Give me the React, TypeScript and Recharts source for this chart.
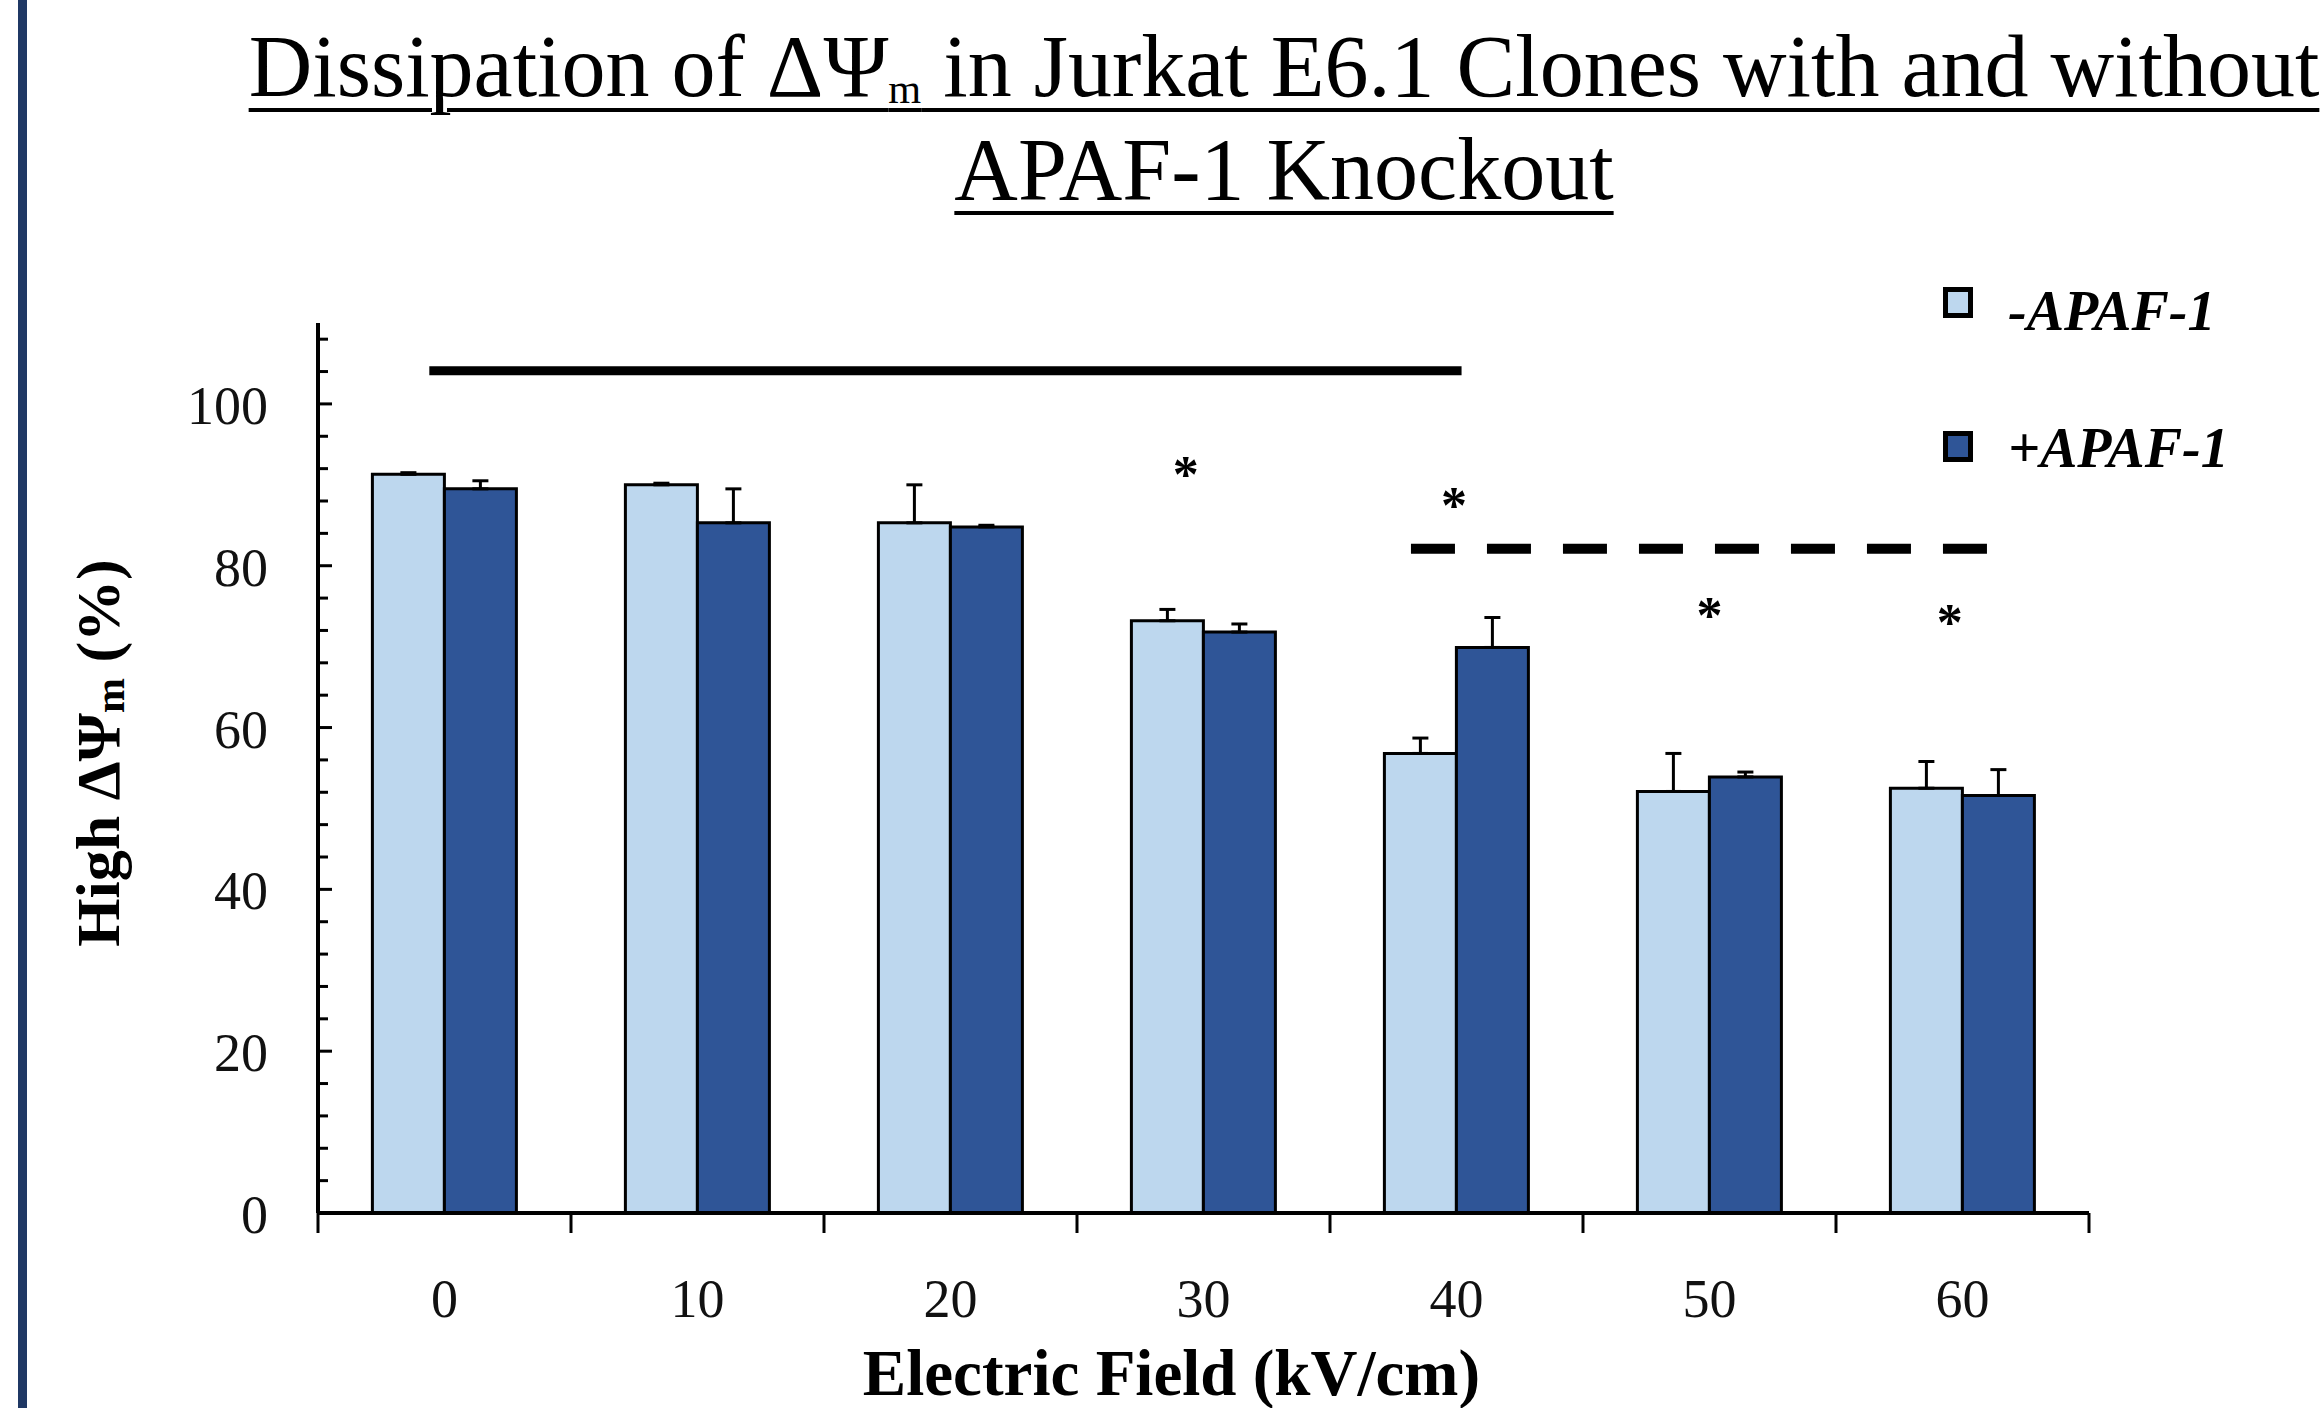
import React from 'react';
import { BarChart, Bar, XAxis, YAxis, ErrorBar, ReferenceLine, ReferenceDot, Legend } from 'recharts';

// ---- data ----
const categories = ['0', '10', '20', '30', '40', '50', '60'];
const minusApaf = [91.3, 90.0, 85.3, 73.2, 56.8, 52.1, 52.5];
const minusApafErr = [0.2, 0.2, 4.7, 1.4, 1.9, 4.7, 3.3];
const plusApaf = [89.5, 85.3, 84.8, 71.8, 69.9, 53.9, 51.6];
const plusApafErr = [1.0, 4.2, 0.2, 1.0, 3.7, 0.6, 3.2];
const seriesNames = ['-APAF-1', '+APAF-1'];

const yTicks = [0, 4, 8, 12, 16, 20, 24, 28, 32, 36, 40, 44, 48, 52, 56, 60, 64, 68, 72, 76, 80, 84, 88, 92, 96, 100, 104, 108];

// significance markers
const starCats = ['30', '40', '50', '60'];
const starY = [92.3, 88.5, 74.9, 74.0];
const starShift = [-0.07, -0.01, 0.0, -0.05]; // fraction of a category band
const solidBracketCats = ['0', '40'];
const solidBracketY = 104.1;
const solidBracketExtend = [-0.06, 0.02];
const dashedBracketCats = ['40', '60'];
const dashedBracketY = 82.1;
const dashedBracketExtend = [-0.18, 0.1];

const data = categories.map((c, i) => ({
  field: c,
  minus: minusApaf[i],
  minusErr: [0, minusApafErr[i]],
  plus: plusApaf[i],
  plusErr: [0, plusApafErr[i]],
}));

const SERIF = '"Liberation Serif", "Times New Roman", Times, serif';
const LIGHT = '#BDD7EE';
const DARK = '#2F5597';

const CHART_W = 2323;
const CHART_H = 1408;
const MARGIN = { top: 323, right: 234, bottom: 5, left: 40 };
const Y_AXIS_W = 278;
const BAND = (CHART_W - MARGIN.left - Y_AXIS_W - MARGIN.right) / categories.length;

const YTick = (props: any) => {
  const { x, y, payload } = props;
  const major = payload.value % 20 === 0;
  return (
    <g>
      <line x1={x} x2={x + (major ? 14 : 10)} y1={y} y2={y} stroke="#000" strokeWidth={3} />
      {major && (
        <text x={x - 50} y={y + 20} textAnchor="end" fontFamily={SERIF} fontSize={54} fill="#111">
          {payload.value}
        </text>
      )}
    </g>
  );
};

const XTick = (props: any) => {
  const { x, y, payload, index } = props;
  const half = payload && typeof payload.offset === 'number' && payload.offset > 0 ? payload.offset : BAND / 2;
  const last = index === categories.length - 1;
  return (
    <g>
      <line x1={x - half} x2={x - half} y1={y} y2={y + 20} stroke="#000" strokeWidth={3} />
      {last && <line x1={x + half} x2={x + half} y1={y} y2={y + 20} stroke="#000" strokeWidth={3} />}
      <text x={x} y={y + 104} textAnchor="middle" fontFamily={SERIF} fontSize={54} fill="#111">
        {payload.value}
      </text>
    </g>
  );
};

const YLabel = (props: any) => {
  const vb = props.viewBox || {};
  const x = vb.x + 79;
  const y = vb.y + vb.height / 2 - 15;
  return (
    <text
      x={x}
      y={y}
      transform={`rotate(-90, ${x}, ${y})`}
      textAnchor="middle"
      fontFamily={SERIF}
      fontWeight="bold"
      fontSize={62}
      fill="#000"
    >
      <tspan>High ΔΨ</tspan>
      <tspan fontSize={42} dy={5}>m</tspan>
      <tspan dy={-5}> (%)</tspan>
    </text>
  );
};

const XLabel = (props: any) => {
  const vb = props.viewBox || {};
  return (
    <text
      x={vb.x + vb.width / 2 - 32}
      y={vb.y + 182}
      textAnchor="middle"
      fontFamily={SERIF}
      fontWeight="bold"
      fontSize={65}
      fill="#000"
    >
      Electric Field (kV/cm)
    </text>
  );
};

const makeStar = (shift: number) => (props: any) => (
  <text
    x={props.cx + shift * BAND}
    y={props.cy + 26}
    textAnchor="middle"
    fontFamily={SERIF}
    fontWeight="bold"
    fontSize={52}
    fill="#000"
  >
    *
  </text>
);

// bracket shape: endpoints come from the category scale (band centres); extend by band fractions
const makeBracket = (spanCats: number, extend: number[], dash?: string, width?: number) => (props: any) => {
  const { x1, x2, y1, y2 } = props;
  if (x1 == null || x2 == null) return null;
  const band = (x2 - x1) / spanCats;
  return (
    <line
      x1={x1 + extend[0] * band}
      x2={x2 + extend[1] * band}
      y1={y1}
      y2={y2}
      stroke="#000"
      strokeWidth={width}
      strokeDasharray={dash}
    />
  );
};

const legendRows = [
  { sq: 19.5, base: 60 },
  { sq: 163.5, base: 197 },
];

const LegendContent = (props: any) => {
  const payload = [...(props.payload || [])].sort(
    (a: any, b: any) => seriesNames.indexOf(a.value) - seriesNames.indexOf(b.value)
  );
  return (
    <svg width={390} height={220} style={{ display: 'block' }}>
      {payload.map((p: any, i: number) => (
        <g key={i}>
          <rect
            x={15.5}
            y={legendRows[i].sq}
            width={25}
            height={26}
            fill={p.color || (p.payload && p.payload.fill)}
            stroke="#000"
            strokeWidth={5}
          />
          <text
            x={78}
            y={legendRows[i].base}
            fontFamily={SERIF}
            fontStyle="italic"
            fontWeight="bold"
            fontSize={56}
            fill="#000"
          >
            {p.value}
          </text>
        </g>
      ))}
    </svg>
  );
};

const catIndex = (c: string) => categories.indexOf(c);

export default function App() {
  return (
    <div style={{ position: 'absolute', left: 0, top: 0, width: CHART_W, height: CHART_H, background: '#fff', overflow: 'hidden' }}>
      <div style={{ position: 'absolute', left: 18, top: 0, width: 9, height: CHART_H, background: '#1F3864' }} />
      <div
        style={{
          position: 'absolute',
          left: 1284,
          top: 15,
          transform: 'translateX(-50%)',
          whiteSpace: 'nowrap',
          textAlign: 'center',
          fontFamily: SERIF,
          fontSize: 88,
          lineHeight: '103px',
          color: '#000',
          textDecoration: 'underline',
          textDecorationThickness: '4px',
          textUnderlineOffset: '12px',
          zIndex: 2,
        }}
      >
        Dissipation of ΔΨ
        <span style={{ fontSize: '0.48em', lineHeight: 1, verticalAlign: '-7px' }}>m</span> in Jurkat E6.1 Clones with and without
        <br />
        APAF-1 Knockout
      </div>
      <BarChart
        width={CHART_W}
        height={CHART_H}
        data={data}
        margin={MARGIN}
        barCategoryGap="21.5%"
        barGap={0}
      >
        <XAxis
          dataKey="field"
          height={190}
          interval={0}
          axisLine={{ stroke: '#000', strokeWidth: 4 }}
          tickLine={false}
          tickSize={0}
          tickMargin={0}
          tick={XTick}
          label={{ content: XLabel }}
        />
        <YAxis
          domain={[0, 110]}
          ticks={yTicks}
          interval={0}
          width={Y_AXIS_W}
          axisLine={{ stroke: '#000', strokeWidth: 4 }}
          tickLine={false}
          tickSize={0}
          tickMargin={0}
          tick={YTick}
          label={{ content: YLabel }}
        />
        <Legend
          layout="vertical"
          align="center"
          verticalAlign="middle"
          wrapperStyle={{ position: 'absolute', left: 1930, top: 270, width: 390, height: 220 }}
          content={LegendContent}
        />
        <Bar dataKey="minus" name={seriesNames[0]} fill={LIGHT} stroke="#000" strokeWidth={3} isAnimationActive={false}>
          <ErrorBar dataKey="minusErr" direction="y" width={8} stroke="#000" strokeWidth={3} />
        </Bar>
        <Bar dataKey="plus" name={seriesNames[1]} fill={DARK} stroke="#000" strokeWidth={3} isAnimationActive={false}>
          <ErrorBar dataKey="plusErr" direction="y" width={8} stroke="#000" strokeWidth={3} />
        </Bar>
        <ReferenceLine
          segment={[
            { x: solidBracketCats[0], y: solidBracketY },
            { x: solidBracketCats[1], y: solidBracketY },
          ]}
          ifOverflow="visible"
          shape={makeBracket(catIndex(solidBracketCats[1]) - catIndex(solidBracketCats[0]), solidBracketExtend, undefined, 9)}
        />
        <ReferenceLine
          segment={[
            { x: dashedBracketCats[0], y: dashedBracketY },
            { x: dashedBracketCats[1], y: dashedBracketY },
          ]}
          ifOverflow="visible"
          shape={makeBracket(catIndex(dashedBracketCats[1]) - catIndex(dashedBracketCats[0]), dashedBracketExtend, '44 32', 10)}
        />
        {starCats.map((c, i) => (
          <ReferenceDot key={i} x={c} y={starY[i]} r={0} shape={makeStar(starShift[i])} />
        ))}
      </BarChart>
    </div>
  );
}
